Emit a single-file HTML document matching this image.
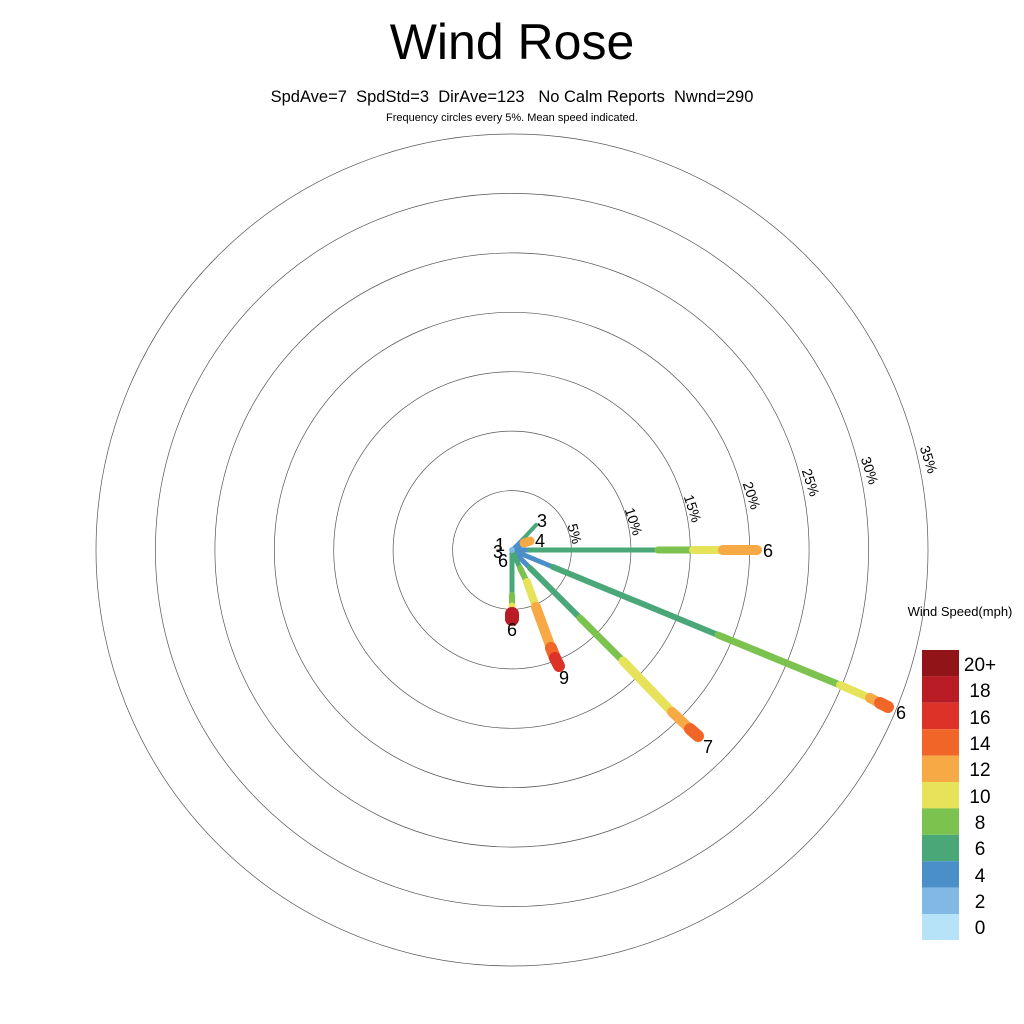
<!DOCTYPE html>
<html><head><meta charset="utf-8"><style>
html,body{margin:0;padding:0;background:#fff;}
svg{display:block;font-family:"Liberation Sans",sans-serif;}
text{white-space:pre;}
</style></head><body>
<svg width="1024" height="1024" viewBox="0 0 1024 1024">
<rect width="1024" height="1024" fill="#fff"/>
<text x="512" y="59" font-size="50" text-anchor="middle">Wind Rose</text>
<text x="512" y="102" font-size="16.5" text-anchor="middle" xml:space="preserve">SpdAve=7  SpdStd=3  DirAve=123   No Calm Reports  Nwnd=290</text>
<text x="512" y="121" font-size="11" text-anchor="middle">Frequency circles every 5%. Mean speed indicated.</text>
<g fill="none" stroke="#555" stroke-width="0.7">
<circle cx="512" cy="550" r="59.4"/>
<circle cx="512" cy="550" r="118.9"/>
<circle cx="512" cy="550" r="178.3"/>
<circle cx="512" cy="550" r="237.7"/>
<circle cx="512" cy="550" r="297.1"/>
<circle cx="512" cy="550" r="356.6"/>
<circle cx="512" cy="550" r="416"/>
</g>
<g font-size="14" fill="#000">
<text transform="translate(570,535) rotate(75)" text-anchor="middle">5%</text>
<text transform="translate(629,523) rotate(72)" text-anchor="middle">10%</text>
<text transform="translate(688,510) rotate(72)" text-anchor="middle">15%</text>
<text transform="translate(747,497) rotate(72)" text-anchor="middle">20%</text>
<text transform="translate(806,484) rotate(72)" text-anchor="middle">25%</text>
<text transform="translate(865,472) rotate(72)" text-anchor="middle">30%</text>
<text transform="translate(924,461) rotate(72)" text-anchor="middle">35%</text>
</g>
<g stroke-linecap="round" fill="none">
<line x1="512" y1="550" x2="530" y2="550" stroke="#4a8fc7" stroke-width="5"/>
<line x1="530" y1="550" x2="658" y2="550" stroke="#4aa878" stroke-width="5"/>
<line x1="658" y1="550" x2="693" y2="550" stroke="#7cc24e" stroke-width="7"/>
<line x1="693" y1="550" x2="723" y2="550" stroke="#e6e25a" stroke-width="8"/>
<line x1="723" y1="550" x2="757" y2="550" stroke="#f7a945" stroke-width="10"/>
<line x1="512" y1="550" x2="553" y2="567" stroke="#4a8fc7" stroke-width="5"/>
<line x1="553" y1="567" x2="718" y2="635" stroke="#4aa878" stroke-width="6"/>
<line x1="718" y1="635" x2="840" y2="685" stroke="#7cc24e" stroke-width="7"/>
<line x1="840" y1="685" x2="870" y2="698" stroke="#e6e25a" stroke-width="8"/>
<line x1="870" y1="698" x2="880" y2="703" stroke="#f7a945" stroke-width="10"/>
<line x1="880" y1="703" x2="888" y2="707" stroke="#f26529" stroke-width="12"/>
<line x1="512" y1="550" x2="530" y2="568" stroke="#4a8fc7" stroke-width="5"/>
<line x1="530" y1="568" x2="580" y2="618" stroke="#4aa878" stroke-width="6"/>
<line x1="580" y1="618" x2="623" y2="661" stroke="#7cc24e" stroke-width="7"/>
<line x1="623" y1="661" x2="672" y2="712" stroke="#e6e25a" stroke-width="9"/>
<line x1="672" y1="712" x2="690" y2="729" stroke="#f7a945" stroke-width="10"/>
<line x1="690" y1="729" x2="698" y2="736" stroke="#f26529" stroke-width="12"/>
<line x1="512" y1="550" x2="520" y2="568" stroke="#4aa878" stroke-width="5"/>
<line x1="520" y1="568" x2="527" y2="582" stroke="#7cc24e" stroke-width="6"/>
<line x1="527" y1="582" x2="536" y2="607" stroke="#e6e25a" stroke-width="8"/>
<line x1="536" y1="607" x2="551" y2="648" stroke="#f7a945" stroke-width="10"/>
<line x1="551" y1="648" x2="555" y2="658" stroke="#f26529" stroke-width="12"/>
<line x1="555" y1="658" x2="559" y2="666" stroke="#dc3227" stroke-width="12"/>
<line x1="512" y1="553" x2="512" y2="595" stroke="#4aa878" stroke-width="5"/>
<line x1="512" y1="595" x2="512" y2="606" stroke="#7cc24e" stroke-width="6"/>
<line x1="512" y1="606" x2="512" y2="610" stroke="#e6e25a" stroke-width="7"/>
<line x1="512" y1="614" x2="512" y2="619" stroke="#b91c24" stroke-width="14"/>
<line x1="512" y1="550" x2="524" y2="538" stroke="#4a8fc7" stroke-width="4"/>
<line x1="524" y1="538" x2="536" y2="525" stroke="#4aa878" stroke-width="4"/>
<line x1="512" y1="550" x2="522" y2="545" stroke="#4a8fc7" stroke-width="4"/>
<line x1="524" y1="543" x2="530" y2="541" stroke="#f7a945" stroke-width="9"/>
<circle cx="512" cy="550" r="3" fill="#7fb9e4"/>
</g>
<g font-size="18" fill="#000" text-anchor="middle">
<text x="768" y="557">6</text>
<text x="901" y="719">6</text>
<text x="708" y="753">7</text>
<text x="564" y="684">9</text>
<text x="512" y="636">6</text>
<text x="542" y="527">3</text>
<text x="540" y="547">4</text>
<text x="500" y="551">1</text>
<text x="498" y="558">3</text>
<text x="503" y="567">6</text>
</g>
<text x="960" y="616" font-size="13" text-anchor="middle">Wind Speed(mph)</text>
<g>
<rect x="922" y="650" width="37" height="26.4" fill="#911419"/>
<rect x="922" y="676.4" width="37" height="26.4" fill="#b91c24"/>
<rect x="922" y="702.8" width="37" height="26.4" fill="#dc3227"/>
<rect x="922" y="729.2" width="37" height="26.4" fill="#f26529"/>
<rect x="922" y="755.6" width="37" height="26.4" fill="#f7a945"/>
<rect x="922" y="782" width="37" height="26.4" fill="#e6e25a"/>
<rect x="922" y="808.4" width="37" height="26.4" fill="#7cc24e"/>
<rect x="922" y="834.8" width="37" height="26.4" fill="#4aa878"/>
<rect x="922" y="861.2" width="37" height="26.4" fill="#4a8fc7"/>
<rect x="922" y="887.6" width="37" height="26.4" fill="#7fb9e4"/>
<rect x="922" y="914" width="37" height="26" fill="#b6e3f7"/>
</g>
<g font-size="19" fill="#000" text-anchor="middle">
<text x="980" y="671">20+</text>
<text x="980" y="697">18</text>
<text x="980" y="724">16</text>
<text x="980" y="750">14</text>
<text x="980" y="776">12</text>
<text x="980" y="803">10</text>
<text x="980" y="829">8</text>
<text x="980" y="855">6</text>
<text x="980" y="882">4</text>
<text x="980" y="908">2</text>
<text x="980" y="934">0</text>
</g>
</svg>
</body></html>
